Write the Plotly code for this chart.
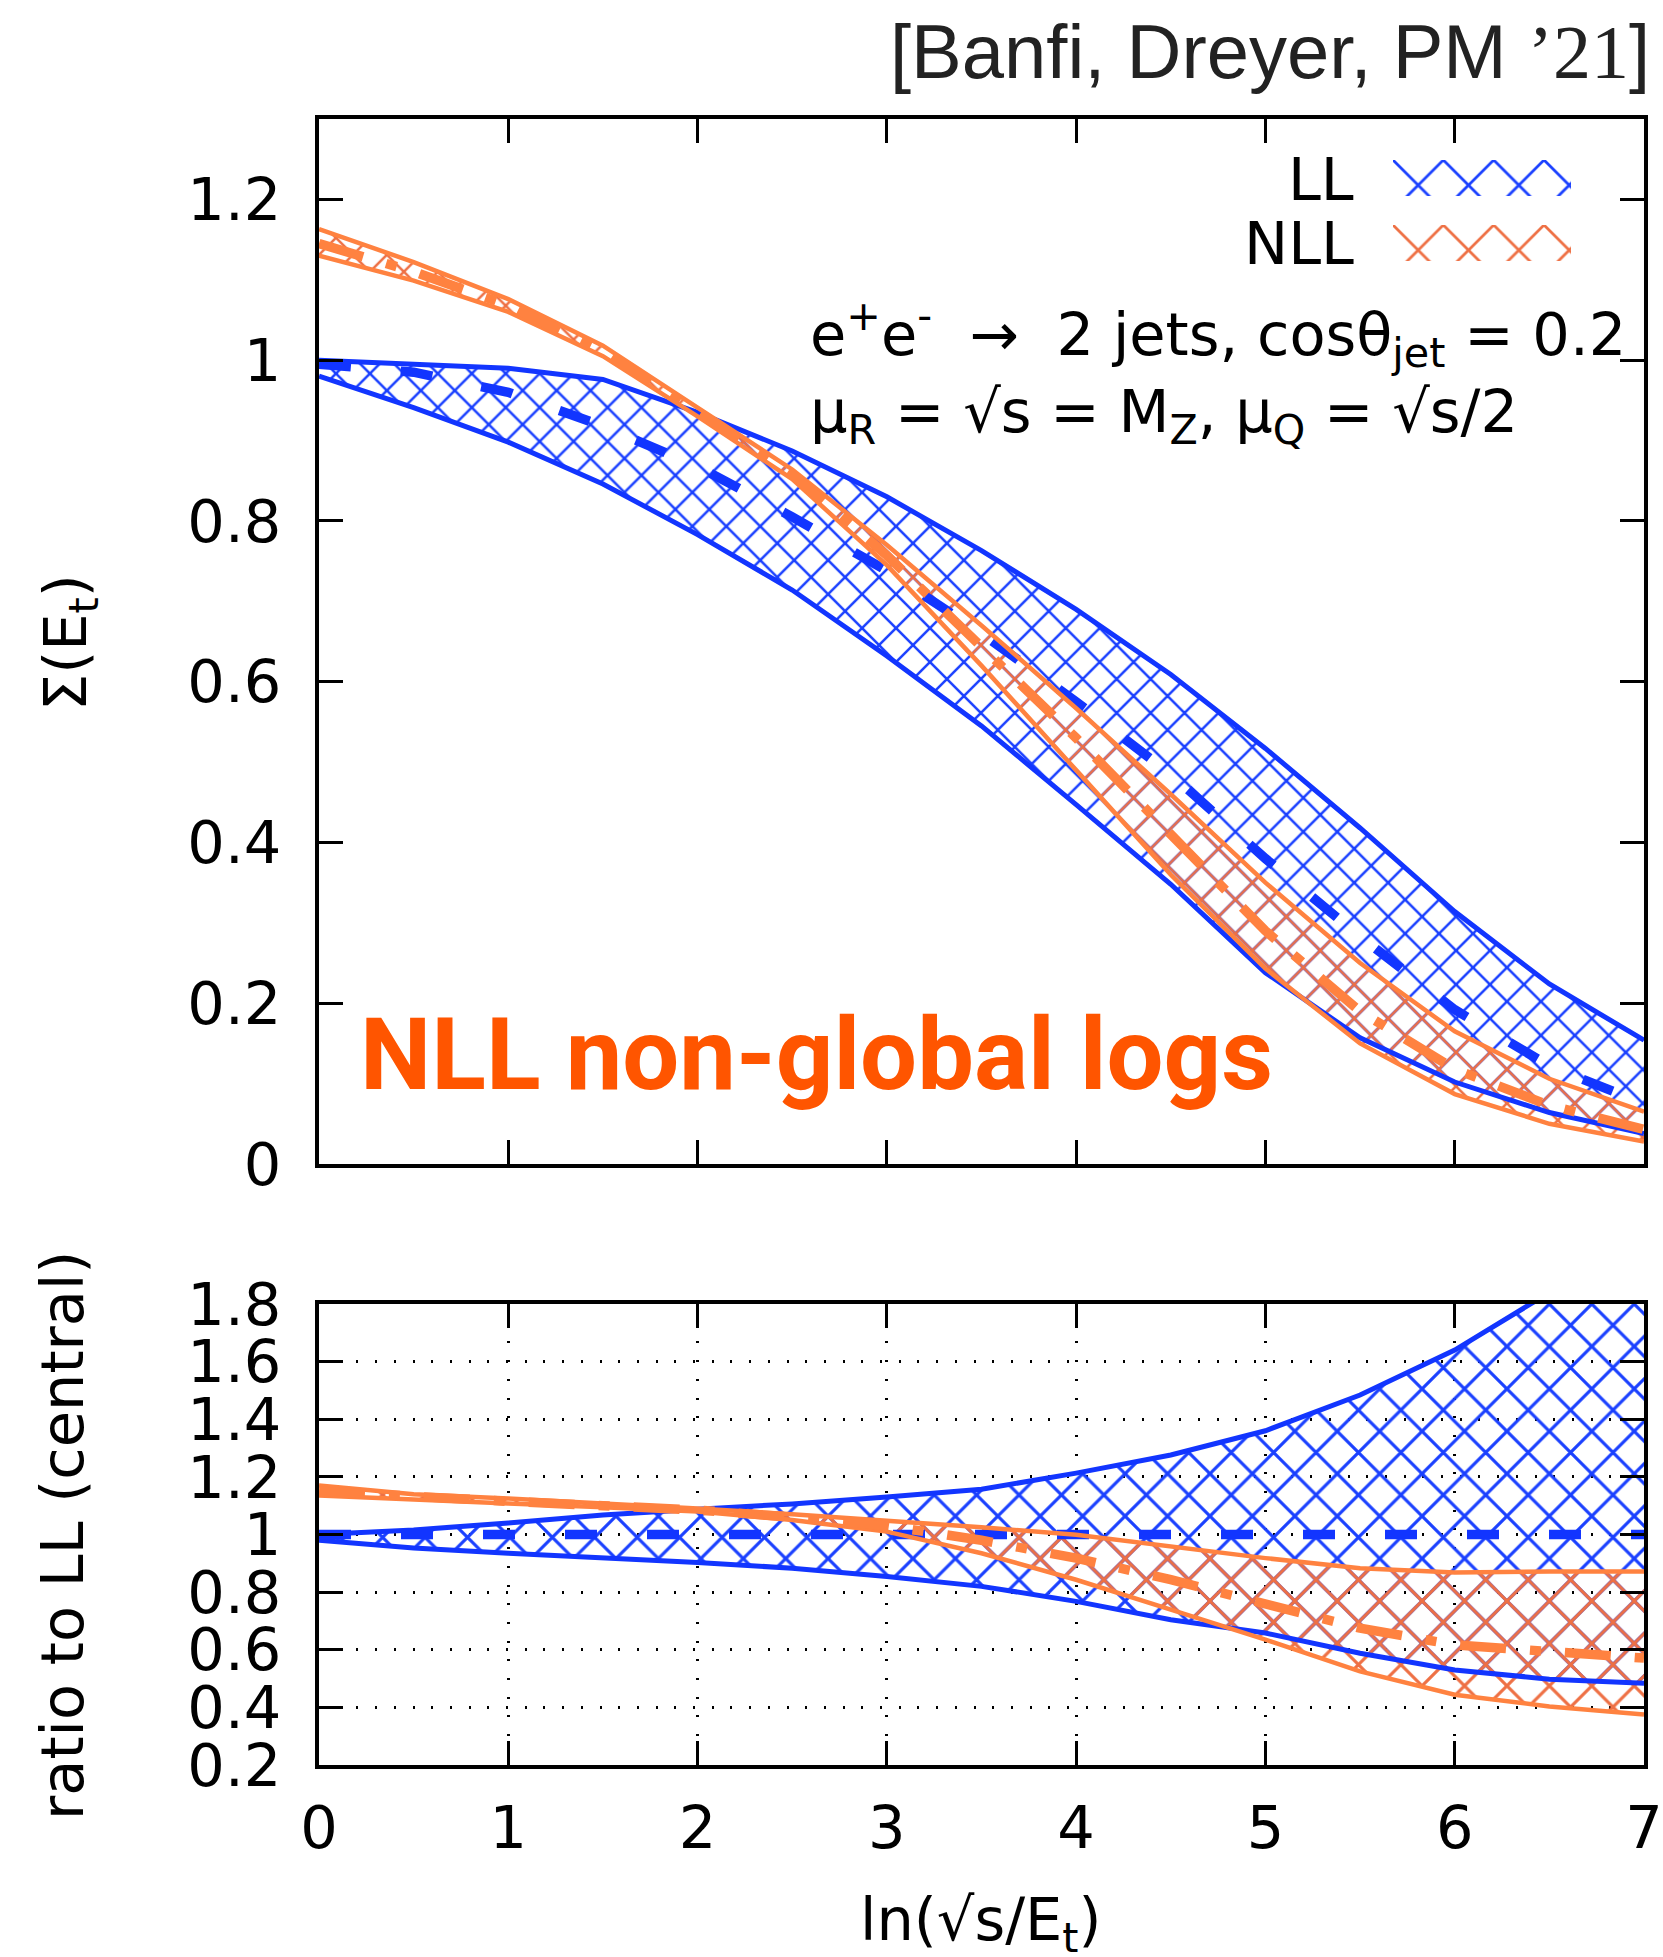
import plotly.graph_objects as go

# ---------------- data ----------------
x_vals = [0, 0.5, 1, 1.5, 2, 2.5, 3, 3.5, 4, 4.5, 5, 5.5, 6, 6.5, 7]

# upper panel: Sigma(E_t)
ll_central = [0.995, 0.985, 0.960, 0.918, 0.868, 0.805, 0.738, 0.660, 0.575, 0.485, 0.380, 0.283, 0.192, 0.122, 0.075]
ll_upper   = [1.000, 0.995, 0.990, 0.976, 0.935, 0.887, 0.830, 0.763, 0.690, 0.609, 0.517, 0.418, 0.314, 0.224, 0.154]
ll_lower   = [0.980, 0.941, 0.898, 0.846, 0.783, 0.714, 0.632, 0.545, 0.447, 0.348, 0.238, 0.157, 0.102, 0.064, 0.038]
nll_central = [1.145, 1.110, 1.068, 1.011, 0.935, 0.858, 0.757, 0.645, 0.530, 0.410, 0.290, 0.190, 0.118, 0.073, 0.043]
nll_upper   = [1.163, 1.122, 1.076, 1.018, 0.941, 0.864, 0.770, 0.670, 0.567, 0.460, 0.350, 0.250, 0.165, 0.106, 0.065]
nll_lower   = [1.130, 1.099, 1.060, 1.005, 0.930, 0.852, 0.745, 0.620, 0.490, 0.360, 0.243, 0.150, 0.087, 0.050, 0.028]

# lower panel: ratio to LL (central)
r_ll_central = [1, 1, 1, 1, 1, 1, 1, 1, 1, 1, 1, 1, 1, 1, 1]
r_ll_upper   = [1.000, 1.016, 1.040, 1.068, 1.088, 1.106, 1.130, 1.157, 1.213, 1.276, 1.360, 1.484, 1.640, 1.840, 2.100]
r_ll_lower   = [0.980, 0.953, 0.935, 0.920, 0.903, 0.883, 0.854, 0.820, 0.768, 0.704, 0.658, 0.588, 0.530, 0.498, 0.484]
r_nll_central = [1.150, 1.130, 1.115, 1.100, 1.085, 1.060, 1.030, 0.980, 0.918, 0.843, 0.756, 0.675, 0.617, 0.592, 0.571]
r_nll_upper   = [1.170, 1.140, 1.125, 1.108, 1.090, 1.070, 1.048, 1.025, 0.999, 0.958, 0.918, 0.883, 0.868, 0.872, 0.872]
r_nll_lower   = [1.135, 1.120, 1.108, 1.095, 1.080, 1.050, 1.010, 0.935, 0.843, 0.739, 0.635, 0.525, 0.444, 0.403, 0.375]

x_ticks = [0, 1, 2, 3, 4, 5, 6, 7]
x_ticktext = ["0", "1", "2", "3", "4", "5", "6", "7"]
y_up_ticks = [0, 0.2, 0.4, 0.6, 0.8, 1.0, 1.2]
y_up_ticktext = ["0", "0.2", "0.4", "0.6", "0.8", "1", "1.2"]
y_lo_ticks = [0.2, 0.4, 0.6, 0.8, 1.0, 1.2, 1.4, 1.6, 1.8]
y_lo_ticktext = ["0.2", "0.4", "0.6", "0.8", "1", "1.2", "1.4", "1.6", "1.8"]

# ---------------- layout constants ----------------
W, H = 1663, 1957
X0, X1 = 319, 1644
UP_T, UP_B = 119, 1164
LO_T, LO_B = 1304, 1765

BLUE = "#1235FF"
BLUE_H = "#1A40FF"
ORANGE = "#FF8240"
ORANGE_H = "#EE7044"
FONT = "DejaVu Sans"
FS = 59


def px(v):
    return v / W


def py(v):
    return 1 - v / H


fig = go.Figure()


def band(xa, ya, lo, up, color, size):
    fig.add_trace(go.Scatter(x=x_vals, y=lo, mode="lines", line=dict(width=0, color=color),
                             xaxis=xa, yaxis=ya, showlegend=False, hoverinfo="skip"))
    fig.add_trace(go.Scatter(x=x_vals, y=up, mode="lines", line=dict(width=0, color=color),
                             fill="tonexty", fillcolor="rgba(0,0,0,0)",
                             fillpattern=dict(shape="x", size=size, solidity=0.2,
                                              fgcolor=color, fgopacity=1,
                                              bgcolor="rgba(0,0,0,0)"),
                             xaxis=xa, yaxis=ya, showlegend=False, hoverinfo="skip"))


def line(xa, ya, y, color, width, dash="solid"):
    fig.add_trace(go.Scatter(x=x_vals, y=y, mode="lines",
                             line=dict(width=width, color=color, dash=dash),
                             xaxis=xa, yaxis=ya, showlegend=False, hoverinfo="skip"))


DASH_LL = "32px,50px"
DASH_NLL = "46px,24px,11px,24px"

for xa, ya, sets, hs in [
    ("x", "y", (ll_lower, ll_upper, ll_central, nll_lower, nll_upper, nll_central), 24),
    ("x2", "y2", (r_ll_lower, r_ll_upper, r_ll_central, r_nll_lower, r_nll_upper, r_nll_central), 30),
]:
    lo, up, ce, nlo, nup, nce = sets
    band(xa, ya, lo, up, BLUE_H, hs)
    band(xa, ya, nlo, nup, ORANGE_H, hs)
    line(xa, ya, lo, BLUE, 5)
    line(xa, ya, up, BLUE, 5)
    line(xa, ya, ce, BLUE, 9.5, DASH_LL)
    line(xa, ya, nlo, ORANGE, 4.5)
    line(xa, ya, nup, ORANGE, 4.5)
    line(xa, ya, nce, ORANGE, 9.5, DASH_NLL)

# legend key swatches: each on its own hidden unit axis placed over the key box
KEY_X = (1393, 1571)
KEY_LL_Y = (160, 196)
KEY_NLL_Y = (225, 261)
KEY_TILE = (KEY_X[1] - KEY_X[0]) / 5
for (ya0, ya1), col, xa, ya in [(KEY_LL_Y, BLUE_H, "x3", "y3"), (KEY_NLL_Y, ORANGE_H, "x4", "y4")]:
    fig.add_trace(go.Scatter(x=[0, 1, 1, 0, 0], y=[0, 0, 1, 1, 0], mode="lines",
                             line=dict(width=0, color=col), fill="toself",
                             fillcolor="rgba(0,0,0,0)",
                             fillpattern=dict(shape="x", size=KEY_TILE, solidity=0.15,
                                              fgcolor=col, fgopacity=1,
                                              bgcolor="rgba(0,0,0,0)"),
                             xaxis=xa, yaxis=ya, showlegend=False, hoverinfo="skip"))

axis_common = dict(showline=True, linewidth=4, linecolor="black", mirror="ticks",
                   ticks="inside", ticklen=24, tickwidth=3, tickcolor="black",
                   zeroline=False, automargin=False,
                   tickfont=dict(family=FONT, size=FS, color="black"))

hidden = dict(visible=False, fixedrange=True, range=[0, 1], automargin=False)

dom_x = [px(X0), px(X1)]
fig.update_layout(
    width=W, height=H,
    margin=dict(l=0, r=0, t=0, b=0, pad=0, autoexpand=False),
    paper_bgcolor="white", plot_bgcolor="rgba(0,0,0,0)",
    showlegend=False,
    xaxis=dict(domain=dom_x, range=[0, 7], anchor="y", tickvals=x_ticks, ticktext=x_ticktext,
               showticklabels=False, showgrid=False, **axis_common),
    yaxis=dict(domain=[py(UP_B), py(UP_T)], range=[0, 1.3], anchor="x",
               tickvals=y_up_ticks, ticktext=y_up_ticktext, showgrid=False,
               ticklabelstandoff=22, **axis_common),
    xaxis2=dict(domain=dom_x, range=[0, 7], anchor="y2", tickvals=x_ticks, ticktext=x_ticktext,
                showgrid=True, gridcolor="black", gridwidth=3, griddash="2px,16.7px",
                ticklabelstandoff=8, **axis_common),
    yaxis2=dict(domain=[py(LO_B), py(LO_T)], range=[0.2, 1.8], anchor="x2",
                tickvals=y_lo_ticks, ticktext=y_lo_ticktext,
                showgrid=True, gridcolor="black", gridwidth=3, griddash="2px,16.7px",
                ticklabelstandoff=22, **axis_common),
    xaxis3=dict(domain=[px(KEY_X[0]), px(KEY_X[1])], anchor="y3", **hidden),
    yaxis3=dict(domain=[py(KEY_LL_Y[1]), py(KEY_LL_Y[0])], anchor="x3", **hidden),
    xaxis4=dict(domain=[px(KEY_X[0]), px(KEY_X[1])], anchor="y4", **hidden),
    yaxis4=dict(domain=[py(KEY_NLL_Y[1]), py(KEY_NLL_Y[0])], anchor="x4", **hidden),
)

ann = []


def text(xp, yp, t, size=FS, color="black", xanchor="center", yanchor="middle", angle=0,
         family=FONT):
    ann.append(dict(x=px(xp), y=py(yp), xref="paper", yref="paper", text=t, showarrow=False,
                    xanchor=xanchor, yanchor=yanchor, textangle=angle,
                    font=dict(family=family, size=size, color=color)))


text(1652, 52, "[Banfi, Dreyer, PM <span style=\"font-family:'Liberation Serif'\">\u201921</span>]",
     size=76, color="#222222", xanchor="right", family="Liberation Sans")
text(69, 643, "\u03a3(E<sub>t</sub>)", angle=-90)
text(62, 1536, "ratio to LL (central)", angle=-90)
text(981, 1923, "ln(\u221as/E<sub>t</sub>)")
text(1356, 180, "LL", xanchor="right")
text(1356, 244, "NLL", xanchor="right")
text(808, 335, "e<sup>+</sup>e<sup>-</sup>  \u2192  2 jets, cos\u03b8<sub>jet</sub> = 0.2", xanchor="left")
text(808, 415, "\u03bc<sub>R</sub> = \u221as = M<sub>Z</sub>, \u03bc<sub>Q</sub> = \u221as/2", xanchor="left")
ann.append(dict(x=px(358), y=py(1054), xref="paper", yref="paper",
                text="<b>NLL non-global logs</b>", showarrow=False, xanchor="left", yanchor="middle",
                font=dict(family="Roboto", size=101, color="#FF5500")))
fig.update_layout(annotations=ann)

fig.write_html("out.html")
